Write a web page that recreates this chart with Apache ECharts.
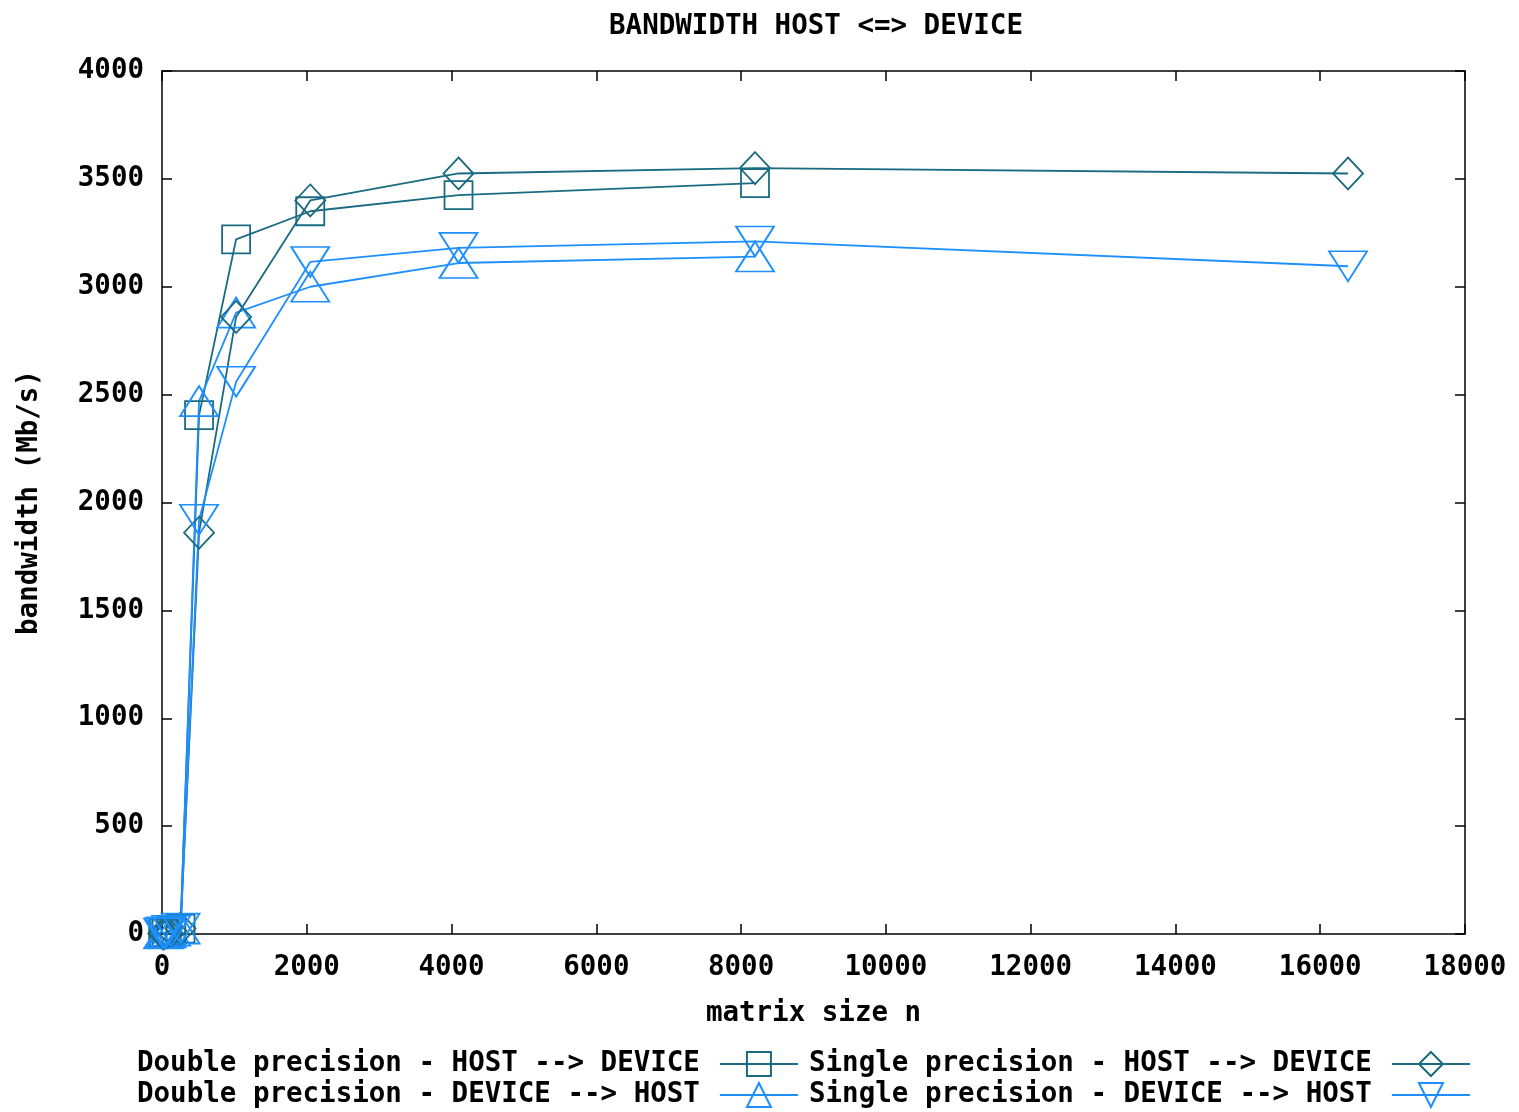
<!DOCTYPE html>
<html>
<head>
<meta charset="utf-8">
<script src="https://cdn.jsdelivr.net/npm/echarts@6/dist/echarts.min.js"></script>
<style>
  html, body { margin: 0; padding: 0; background: #fff; }
  #chart { width: 1519px; height: 1112px; }
</style>
</head>
<body>
<div id="chart"></div>
<script>
// matrix sizes n
const sizesDouble = [16, 32, 64, 128, 256, 512, 1024, 2048, 4096, 8192]
const sizesSingle = [16, 32, 64, 128, 256, 512, 1024, 2048, 4096, 8192, 16384]

// bandwidth in Mb/s
const doubleHostToDevice = [2, 4, 8, 15, 25, 2405, 3220, 3350, 3425, 3480]
const doubleDeviceToHost = [2, 4, 8, 15, 25, 2470, 2880, 3000, 3110, 3140]
const singleHostToDevice = [2, 4, 8, 15, 25, 1860, 2860, 3400, 3525, 3550, 3525]
const singleDeviceToHost = [2, 4, 8, 15, 25, 1920, 2560, 3115, 3180, 3210, 3095]

const names = [
  'Double precision - HOST --> DEVICE',
  'Double precision - DEVICE --> HOST',
  'Single precision - HOST --> DEVICE',
  'Single precision - DEVICE --> HOST'
]

const TEAL = '#1a6b82'
const BLUE = '#1e8fff'
const FONT = 'DejaVu Sans Mono'

const zip = (xs, ys) => xs.map((x, i) => [x, ys[i]])

const mkSeries = (name, data, color, symbol, size, rotate) => ({
  name,
  type: 'line',
  data,
  symbol,
  symbolSize: size,
  symbolRotate: rotate || 0,
  showAllSymbol: true,
  lineStyle: { color, width: 1.8 },
  itemStyle: { color: 'rgba(0,0,0,0)', borderColor: color, borderWidth: 1.8 },
  emphasis: { disabled: true },
  animation: false
})

const textBase = { fontFamily: FONT, fontWeight: 'bold', fontSize: 27.5, color: '#000' }

// one legend per entry, text then sample, as gnuplot puts it
const mkLegend = (name, left, top) => ({
  data: [name],
  left,
  top,
  align: 'right',
  itemWidth: 78,
  itemHeight: 30,
  itemGap: 0,
  padding: 0,
  selectedMode: false,
  textStyle: Object.assign({ padding: [0, 15, 0, 0] }, textBase)
})

const tick = { show: true, inside: true, length: 10, lineStyle: { color: '#000', width: 1.5 } }
const line = { show: true, onZero: false, lineStyle: { color: '#000', width: 1.5 } }
const plain = v => String(v)

const chart = echarts.init(document.getElementById('chart'))
chart.setOption({
  backgroundColor: '#fff',
  animation: false,
  title: {
    text: 'BANDWIDTH HOST <=> DEVICE',
    left: 811,
    textAlign: 'center',
    top: 8,
    textStyle: textBase
  },
  legend: [
    mkLegend(names[0], 137, 1050),
    mkLegend(names[1], 137, 1081),
    mkLegend(names[2], 809, 1050),
    mkLegend(names[3], 809, 1081)
  ],
  grid: {
    left: 162,
    right: 54,
    top: 71,
    bottom: 178
  },
  xAxis: [
    {
      type: 'value',
      position: 'bottom',
      min: 0,
      max: 18000,
      interval: 2000,
      name: 'matrix size n',
      nameLocation: 'middle',
      nameGap: 66,
      nameTextStyle: textBase,
      axisLine: line,
      axisTick: tick,
      axisLabel: Object.assign({ margin: 20, formatter: plain }, textBase),
      splitLine: { show: false }
    },
    {
      type: 'value',
      position: 'top',
      min: 0,
      max: 18000,
      interval: 2000,
      axisLine: line,
      axisTick: tick,
      axisLabel: { show: false },
      splitLine: { show: false }
    }
  ],
  yAxis: [
    {
      type: 'value',
      position: 'left',
      min: 0,
      max: 4000,
      interval: 500,
      name: 'bandwidth (Mb/s)',
      nameLocation: 'middle',
      nameGap: 118,
      nameTextStyle: textBase,
      axisLine: line,
      axisTick: tick,
      axisLabel: Object.assign({ margin: 18, formatter: plain }, textBase),
      splitLine: { show: false }
    },
    {
      type: 'value',
      position: 'right',
      min: 0,
      max: 4000,
      interval: 500,
      axisLine: line,
      axisTick: tick,
      axisLabel: { show: false },
      splitLine: { show: false }
    }
  ],
  series: [
    mkSeries(names[0], zip(sizesDouble, doubleHostToDevice), TEAL, 'rect', 28),
    mkSeries(names[1], zip(sizesDouble, doubleDeviceToHost), BLUE, 'triangle', [38, 30]),
    mkSeries(names[2], zip(sizesSingle, singleHostToDevice), TEAL, 'diamond', [30, 32]),
    mkSeries(names[3], zip(sizesSingle, singleDeviceToHost), BLUE, 'triangle', [38, 30], 180)
  ]
})
</script>
</body>
</html>
